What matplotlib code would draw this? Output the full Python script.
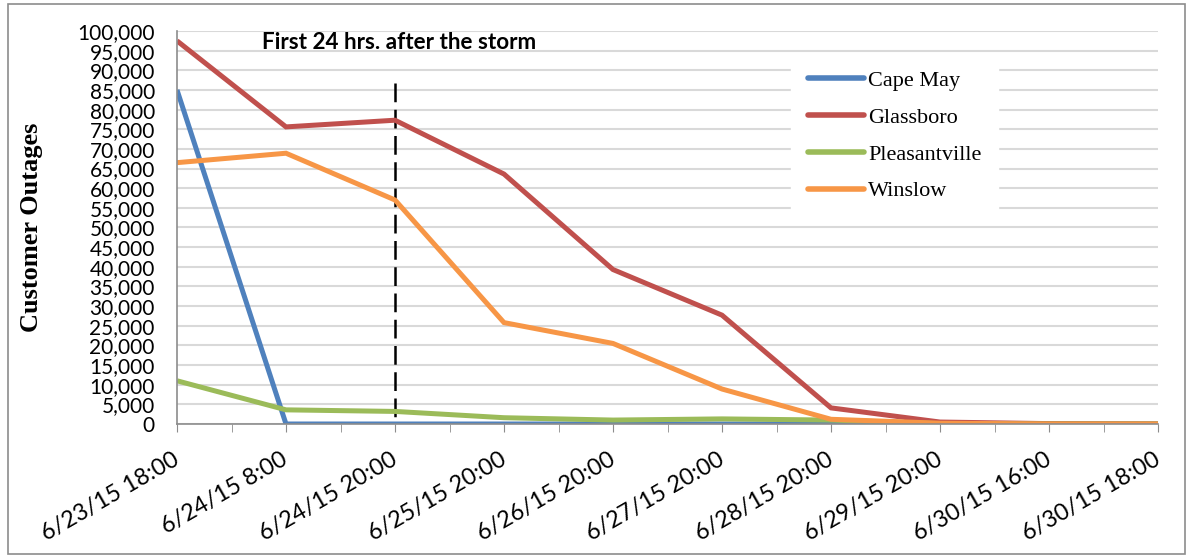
import numpy as np
import matplotlib
matplotlib.use("Agg")
import matplotlib.pyplot as plt
from matplotlib.patches import Rectangle
from matplotlib.transforms import ScaledTranslation

# data
dates = ["6/23/15 18:00", "6/24/15 8:00", "6/24/15 20:00", "6/25/15 20:00",
         "6/26/15 20:00", "6/27/15 20:00", "6/28/15 20:00", "6/29/15 20:00",
         "6/30/15 16:00", "6/30/15 18:00"]
cape_may = [85000, 0, 0, 0, 0, 0, 0, 0, 0, 0]
glassboro = [97500, 75600, 77300, 63600, 39300, 27700, 4100, 500, 100, 0]
pleasantville = [11000, 3600, 3200, 1600, 1000, 1300, 1000, 100, 0, 0]
winslow = [66500, 68900, 57000, 25800, 20500, 8900, 1200, 200, 0, 0]
storm_marker = "6/24/15 20:00"
storm_top = 86800

series = [("Cape May", cape_may, "#4f81bd"),
          ("Glassboro", glassboro, "#c0504d"),
          ("Pleasantville", pleasantville, "#9bbb59"),
          ("Winslow", winslow, "#f79646")]

fig = plt.figure(figsize=(11.91, 5.58), dpi=100)
ax = fig.add_axes([177/1191, 1-424/558, (1158-177)/1191, (424-31)/558])
fig.patches.append(Rectangle((8/1191, 4/558), 1177/1191, 550/558, transform=fig.transFigure,
                             fill=False, edgecolor="#8c8c8c", linewidth=1.2))

x = np.arange(len(dates))
for name, vals, col in series:
    ax.plot(x, vals, color=col, lw=3.6, label=name, solid_capstyle="butt", solid_joinstyle="miter")

# dashed marker drawn top-down so the pattern starts at its top end
xs = dates.index(storm_marker)
ax.plot([xs, xs], [storm_top, 0], color="black", lw=1.8, ls=(0, (7.5, 3)), zorder=1)
ax.text(2.035, 97000, "First 24 hrs. after the storm", ha="center", va="center",
        fontsize=16.2, fontweight="bold", family="Lato")

ax.set_xlim(0, len(dates)-1)
ax.set_ylim(0, 100000)
ax.set_yticks(np.arange(0, 100001, 5000))
ax.set_yticklabels([f"{v:,}" for v in range(0, 100001, 5000)], family="Lato", fontsize=15)
ax.tick_params(axis="y", length=0, pad=16)
ax.set_xticks(x)
ax.set_xticks(x[:-1] + 0.5, minor=True)
ax.set_xticklabels(dates, rotation=30, ha="right", rotation_mode="anchor", family="Lato", fontsize=16.8)
ax.tick_params(axis="x", which="both", length=6, color="#8c8c8c", pad=12)
shift = ScaledTranslation(-5/100, 0, fig.dpi_scale_trans)
for lbl in ax.get_xticklabels():
    lbl.set_transform(lbl.get_transform() + shift)
ax.grid(axis="y", color="#d9d9d9", lw=1.5)
ax.set_axisbelow(True)
for s in ["top", "right"]:
    ax.spines[s].set_visible(False)
for s in ["left", "bottom"]:
    ax.spines[s].set_color("#8c8c8c")
    ax.spines[s].set_linewidth(1.2)

ax.set_ylabel("Customer Outages", family="Liberation Serif", fontweight="bold", fontsize=19)
ax.yaxis.set_label_coords(-0.137, 0.5)

leg = ax.legend(loc="upper right", bbox_to_anchor=(0.837, 0.942), borderaxespad=0, frameon=True,
                fancybox=False, edgecolor="white", framealpha=1,
                prop={"family": "Liberation Serif", "size": 16},
                handlelength=2.5, labelspacing=0.73, borderpad=0.75, handletextpad=0.2)
for h in leg.get_lines():
    h.set_linewidth(4)
    h.set_solid_capstyle("round")

fig.savefig("out.png", dpi=100)
